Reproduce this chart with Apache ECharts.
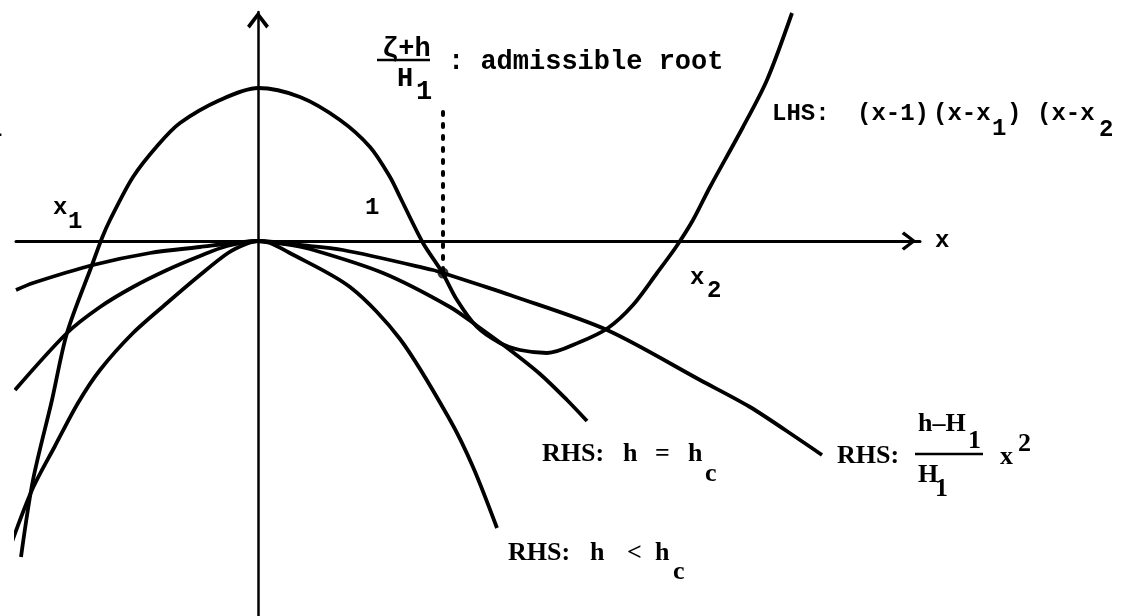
<!DOCTYPE html>
<html>
<head>
<meta charset="utf-8">
<title>LHS / RHS roots</title>
<script src="https://cdn.jsdelivr.net/npm/echarts@6/dist/echarts.min.js"></script>
<style>
  html, body { margin: 0; padding: 0; background: #fff; }
  #main { width: 1131px; height: 616px; }
</style>
</head>
<body>
<div id="main"></div>
<script>
var lhsCurve = [[-237,-316],[-225,-239],[-206,-159],[-191,-92],[-166,-24],[-156,3],[-148,21],[-125,64],
  [-100,96],[-78,118],[-38,141],[0,153],[42,144],[82,121],[112,94],[132,64],[142,44],[165,-2],[184,-31],[199,-59],
  [219,-86],[242,-102],[262,-109],[289,-112],[322,-101],[350,-87],[375,-64],[399,-32],[418,-6],[435,21],
  [452,54],[485,114],[509,161],[534,228]];
// RHS: (h-H1)/H1 x^2
var rhsFlat = [[-242,-49],[-225,-42],[-165,-24],[-108,-12],[-58,-6],[-25,-2],[0,0],[42,-4],[85,-9],
  [175,-29],[185,-32],[222,-44],[252,-54],[349,-89],[442,-139],[492,-166],[542,-199],[564,-214]];
// RHS: h = hc
var rhsCritical = [[-243,-149],[-191,-92],[-158,-66],[-125,-46],[-91,-29],[-58,-15],[-31,-5],[0,0],
  [26,-3],[52,-8],[125,-32],[192,-66],[222,-87],[252,-109],[282,-133],[309,-159],[329,-180]];
// RHS: h < hc
var rhsBelow = [[-249,-309],[-226,-249],[-203,-205],[-180,-162],[-158,-129],[-125,-92],[-91,-62],
  [-58,-34],[-30,-12],[-12,-3],[0,0],[12,-2],[30,-11],[92,-46],[142,-98],[192,-179],[215,-226],[239,-287]];
var rootGuide = [[185,129],[185,-32]];
var rootPoint = [[185,-32]];

var chart = echarts.init(document.getElementById('main'));

var mono = '"Liberation Mono", "DejaVu Sans Mono", monospace';
var serif = '"Liberation Serif", "DejaVu Serif", serif';
var chevron = 'path://M10,0 L20,13 L17.5,15.5 L10,5.5 L2.5,15.5 L0,13 Z';

function txt(s, x, y, size, family) {
  return {
    type: 'text', x: x, y: y, silent: true,
    style: { text: s, fill: '#000', font: 'bold ' + size + 'px ' + family, align: 'left', verticalAlign: 'middle' }
  };
}
function bar(x1, x2, y) {
  return { type: 'line', silent: true, shape: { x1: x1, y1: y, x2: x2, y2: y }, style: { stroke: '#000', lineWidth: 2.5 } };
}

function curve(data) {
  return {
    type: 'line', data: data, smooth: 0.3, showSymbol: false, symbol: 'none', clip: false, silent: true,
    lineStyle: { color: '#000', width: 3.8 }
  };
}

var option = {
  backgroundColor: '#fff',
  animation: false,
  grid: { left: 16, right: 211, top: 12, bottom: 0 },
  xAxis: {
    type: 'value', min: -242, max: 662,
    name: 'x', nameLocation: 'end', nameGap: 15,
    nameTextStyle: { color: '#000', fontFamily: mono, fontWeight: 'bold', fontSize: 24, padding: [10, 0, 0, 0] },
    axisLine: { onZero: true, symbol: ['none', chevron], symbolSize: [19, 23], symbolOffset: [0, -11],
      lineStyle: { color: '#000', width: 3 } },
    axisTick: { show: false }, axisLabel: { show: false }, splitLine: { show: false }
  },
  yAxis: {
    type: 'value', min: -375, max: 229,
    axisLine: { onZero: true, symbol: ['none', chevron], symbolSize: [24, 17], symbolOffset: [0, -8],
      lineStyle: { color: '#000', width: 2.5 } },
    axisTick: { show: false }, axisLabel: { show: false }, splitLine: { show: false }
  },
  series: [
    curve(lhsCurve),
    curve(rhsFlat),
    curve(rhsCritical),
    curve(rhsBelow),
    {
      type: 'line', data: rootGuide, showSymbol: false, symbol: 'none', clip: false, silent: true,
      lineStyle: { color: '#000', width: 4, type: [3, 9], cap: 'round' }
    },
    {
      type: 'scatter', data: rootPoint, symbolSize: 11, silent: true,
      itemStyle: { color: '#000' }
    }
  ],
  graphic: [
    // admissible root label
    txt('\u03b6+h', 382, 49, 27, mono),
    bar(377, 430, 60),
    txt('H', 397, 79, 27, mono),
    txt('1', 416, 92, 27, mono),
    txt(': admissible root', 448, 62, 27, mono),
    txt('1', -12, 130, 24, mono),
    // root marks on the x axis
    txt('x', 53, 208, 24, mono),
    txt('1', 68, 222, 24, mono),
    txt('1', 365, 208, 24, mono),
    txt('x', 690, 278, 24, mono),
    txt('2', 707, 291, 24, mono),
    // LHS
    txt('LHS:', 772, 114, 24, mono),
    txt('(x-1)', 857, 114, 24, mono),
    txt('(x-x', 933, 114, 24, mono),
    txt('1', 992, 129, 24, mono),
    txt(')', 1007, 114, 24, mono),
    txt('(x-x', 1037, 114, 24, mono),
    txt('2', 1099, 130, 24, mono),
    // RHS h = hc
    txt('RHS:', 542, 454, 26, serif),
    txt('h', 623, 454, 26, serif),
    txt('=', 655, 454, 26, serif),
    txt('h', 688, 454, 26, serif),
    txt('c', 705, 474, 26, serif),
    // RHS h < hc
    txt('RHS:', 508, 553, 26, serif),
    txt('h', 590, 553, 26, serif),
    txt('<', 627, 553, 26, serif),
    txt('h', 655, 553, 26, serif),
    txt('c', 673, 572, 26, serif),
    // RHS (h-H1)/H1 x^2
    txt('RHS:', 837, 456, 26, serif),
    txt('h\u2013H', 918, 424, 26, serif),
    txt('1', 968, 441, 26, serif),
    bar(915, 983, 454),
    txt('H', 918, 475, 26, serif),
    txt('1', 935, 489, 26, serif),
    txt('x', 1000, 457, 26, serif),
    txt('2', 1018, 444, 26, serif)
  ]
};

chart.setOption(option);
</script>
</body>
</html>
